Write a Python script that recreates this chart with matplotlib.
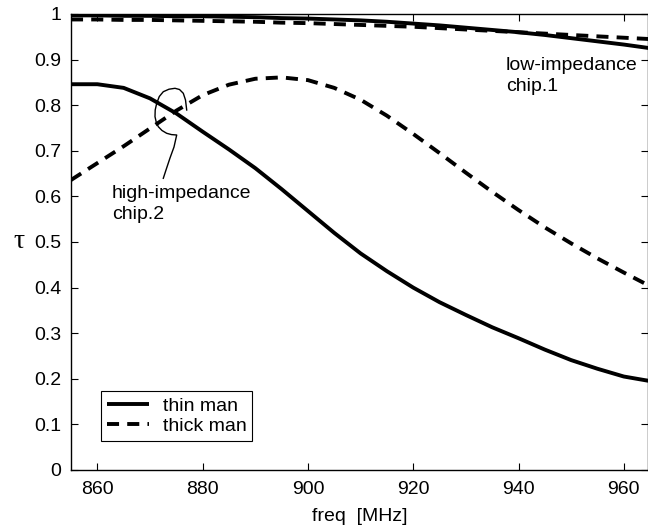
import numpy as np
import matplotlib
matplotlib.use("Agg")
import matplotlib.pyplot as plt

freq = [855, 860, 865, 870, 875, 880, 885, 890, 895, 900, 905, 910,
        915, 920, 925, 930, 935, 940, 945, 950, 955, 960, 965]

# low-impedance chip.1
thin_low = [0.997, 0.997, 0.996, 0.996, 0.995, 0.995, 0.994, 0.993, 0.991, 0.990,
            0.988, 0.986, 0.983, 0.979, 0.975, 0.970, 0.965, 0.960, 0.954, 0.947,
            0.940, 0.933, 0.925]
thick_low = [0.988, 0.988, 0.987, 0.987, 0.986, 0.985, 0.984, 0.983, 0.981, 0.980,
             0.978, 0.976, 0.974, 0.972, 0.969, 0.966, 0.963, 0.960, 0.957, 0.954,
             0.951, 0.948, 0.945]

# high-impedance chip.2
thin_high = [0.846, 0.846, 0.838, 0.815, 0.782, 0.742, 0.703, 0.662, 0.616, 0.568,
             0.520, 0.475, 0.436, 0.400, 0.368, 0.340, 0.313, 0.289, 0.264, 0.241,
             0.222, 0.205, 0.195]
thick_high = [0.636, 0.673, 0.710, 0.749, 0.788, 0.822, 0.845, 0.858, 0.861, 0.855,
              0.838, 0.812, 0.777, 0.737, 0.695, 0.652, 0.610, 0.570, 0.532, 0.497,
              0.464, 0.433, 0.403]

xticks = [860, 880, 900, 920, 940, 960]
yticks = [0, 0.1, 0.2, 0.3, 0.4, 0.5, 0.6, 0.7, 0.8, 0.9, 1]
yticklabels = ["0", "0.1", "0.2", "0.3", "0.4", "0.5", "0.6", "0.7", "0.8", "0.9", "1"]

plt.rcParams['font.family'] = ['Liberation Sans', 'DejaVu Sans']
FS = 14

fig = plt.figure(figsize=(6.48, 5.29), dpi=100)
ax = fig.add_axes([71/648, 59/529, (647.5-71)/648, 456/529])

lw = 2.8
dash = (3.1, 2.1)
ax.plot(freq, thin_low, color='black', lw=lw, solid_capstyle='butt', label='thin man')
ax.plot(freq, thick_low, color='black', lw=lw, dashes=dash, label='thick man')
ax.plot(freq, thin_high, color='black', lw=lw, solid_capstyle='butt')
ax.plot(freq, thick_high, color='black', lw=lw, dashes=dash)

ax.set_xlim(855, 964.5)
ax.set_ylim(0, 1)
ax.set_xticks(xticks)
ax.set_xticklabels([str(t) for t in xticks])
ax.set_yticks(yticks)
ax.set_yticklabels(yticklabels)
ax.tick_params(direction='in', length=5, width=0.8, top=True, right=True,
               labelsize=FS)
ax.tick_params(axis='x', pad=8)
ax.tick_params(axis='y', pad=7)
for s in ax.spines.values():
    s.set_linewidth(1.0)

ax.set_xlabel('freq  [MHz]', fontsize=FS, labelpad=7)
ax.set_ylabel('τ', fontsize=20, rotation=0, family=['Liberation Serif', 'DejaVu Serif'],
              labelpad=11, va='center')

# annotations
ax.text(937.6, 0.906, 'low-impedance\nchip.1', fontsize=FS, va='top', ha='left',
        linespacing=1.3)
ax.text(862.8, 0.625, 'high-impedance\nchip.2', fontsize=FS, va='top', ha='left',
        linespacing=1.3)

# hand-drawn loop pointer (pixel positions converted to axes fraction)
px = np.array([186.7, 185.5, 183.3, 179.5, 175.0, 169.0, 163.3, 159.3, 156.7, 155.2,
               155.0, 156.2, 158.3, 162.0, 166.7, 171.5, 176.7, 174.0, 170.0, 166.0, 163.3])
py = np.array([110.0, 100.0, 93.3, 89.5, 88.3, 89.2, 91.7, 96.5, 103.3, 110.0,
               116.7, 122.0, 126.7, 130.5, 133.3, 134.6, 135.0, 147.0, 158.0, 170.0, 178.3])
ax.plot((px - 71) / 576.5, (470 - py) / 456, color='black', lw=1.0,
        transform=ax.transAxes, clip_on=False)

leg = ax.legend(loc='lower left', bbox_to_anchor=(0.0515, 0.0636), fontsize=FS,
                frameon=True, fancybox=False, edgecolor='black', framealpha=1,
                handlelength=2.2, borderpad=0.3, labelspacing=0.15, handletextpad=0.7,
                borderaxespad=0)
leg.get_frame().set_linewidth(0.8)

fig.savefig('out.png', dpi=100)
